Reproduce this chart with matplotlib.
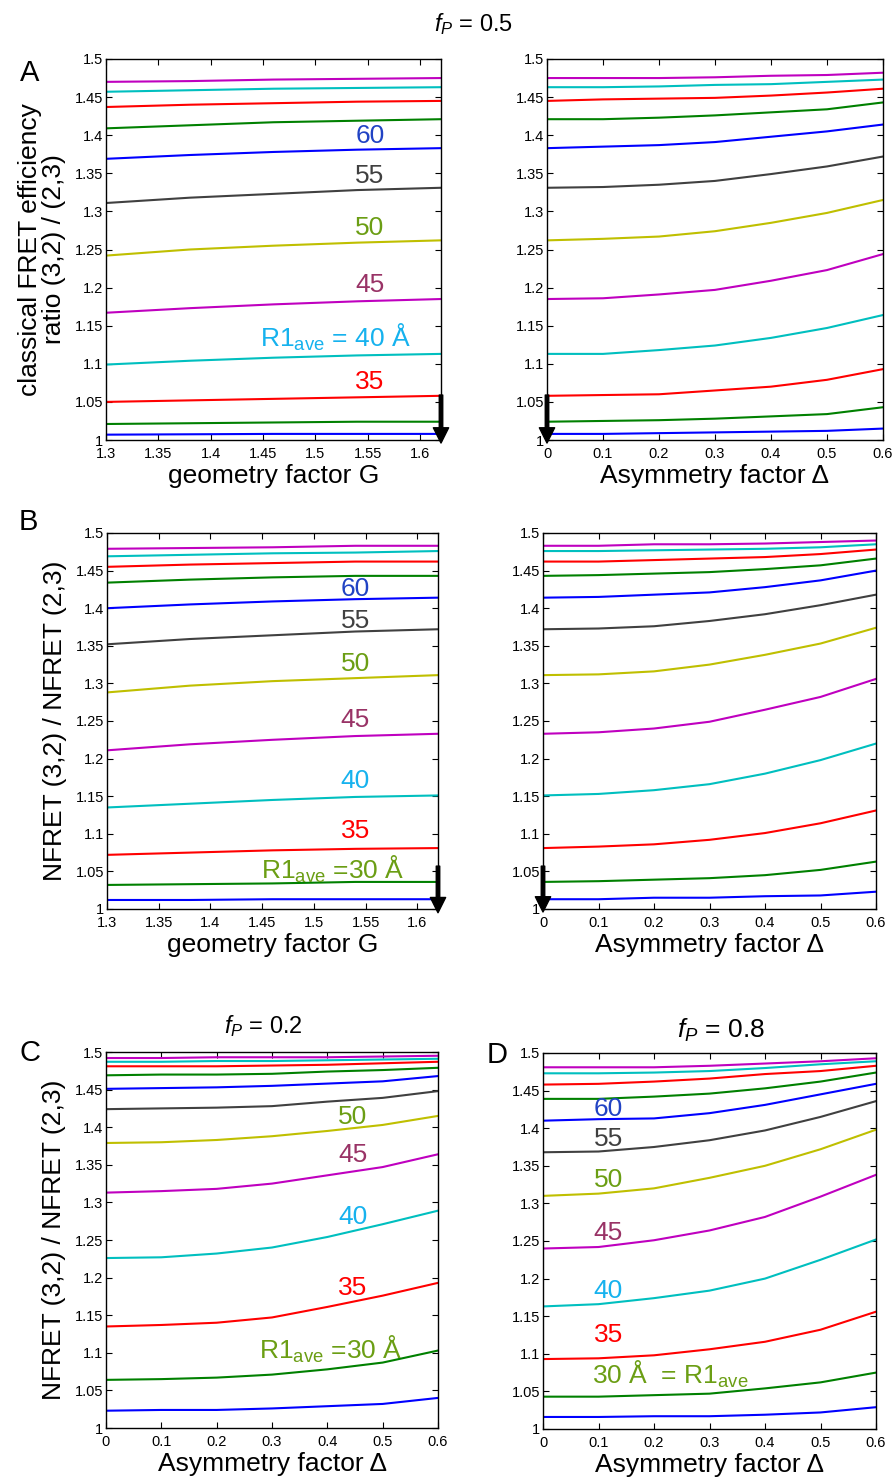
import numpy as np
import matplotlib
matplotlib.use("Agg")
import matplotlib.pyplot as plt
from matplotlib.ticker import FuncFormatter

plt.rcParams['font.family'] = ['Liberation Sans', 'DejaVu Sans']
plt.rcParams['mathtext.fontset'] = 'custom'
plt.rcParams['mathtext.rm'] = 'Liberation Sans'
plt.rcParams['mathtext.it'] = 'Liberation Sans:italic'

# x values
g_vals = [1.30, 1.38, 1.46, 1.54, 1.62]
delta_vals = [0, 0.1, 0.2, 0.3, 0.4, 0.5, 0.6]
r1_ave = [25, 30, 35, 40, 45, 50, 55, 60, 65, 70, 75, 80]

# A: classical FRET ratio vs G (f_P = 0.5)
a_geom = [
    [1.007, 1.0075, 1.008, 1.008, 1.008],
    [1.021, 1.022, 1.023, 1.024, 1.024],
    [1.050, 1.052, 1.054, 1.056, 1.058],
    [1.099, 1.104, 1.108, 1.111, 1.113],
    [1.167, 1.173, 1.178, 1.182, 1.185],
    [1.242, 1.250, 1.255, 1.259, 1.262],
    [1.311, 1.318, 1.323, 1.328, 1.331],
    [1.369, 1.374, 1.378, 1.381, 1.383],
    [1.409, 1.413, 1.417, 1.419, 1.421],
    [1.437, 1.440, 1.442, 1.444, 1.445],
    [1.457, 1.459, 1.461, 1.462, 1.463],
    [1.470, 1.471, 1.473, 1.474, 1.475],
]
# A: classical FRET ratio vs asymmetry
a_asym = [
    [1.008, 1.008, 1.009, 1.010, 1.011, 1.012, 1.015],
    [1.024, 1.025, 1.026, 1.028, 1.031, 1.034, 1.043],
    [1.058, 1.059, 1.060, 1.065, 1.070, 1.079, 1.093],
    [1.113, 1.113, 1.118, 1.124, 1.134, 1.147, 1.164],
    [1.185, 1.186, 1.191, 1.197, 1.209, 1.223, 1.244],
    [1.262, 1.264, 1.267, 1.274, 1.285, 1.298, 1.315],
    [1.331, 1.332, 1.335, 1.340, 1.349, 1.359, 1.372],
    [1.383, 1.385, 1.387, 1.391, 1.398, 1.405, 1.414],
    [1.421, 1.421, 1.423, 1.426, 1.430, 1.434, 1.443],
    [1.445, 1.447, 1.448, 1.449, 1.452, 1.456, 1.461],
    [1.463, 1.463, 1.464, 1.466, 1.467, 1.470, 1.473],
    [1.475, 1.475, 1.475, 1.476, 1.478, 1.479, 1.482],
]
# B: NFRET ratio vs G
b_geom = [
    [1.012, 1.012, 1.013, 1.013, 1.013],
    [1.032, 1.033, 1.034, 1.036, 1.036],
    [1.072, 1.075, 1.078, 1.080, 1.081],
    [1.135, 1.140, 1.145, 1.149, 1.151],
    [1.211, 1.219, 1.225, 1.230, 1.233],
    [1.288, 1.297, 1.303, 1.307, 1.311],
    [1.352, 1.359, 1.364, 1.369, 1.372],
    [1.400, 1.405, 1.409, 1.412, 1.414],
    [1.434, 1.438, 1.441, 1.443, 1.443],
    [1.455, 1.458, 1.460, 1.462, 1.462],
    [1.469, 1.471, 1.473, 1.474, 1.476],
    [1.479, 1.480, 1.481, 1.483, 1.483],
]
# B: NFRET ratio vs asymmetry
b_asym = [
    [1.013, 1.013, 1.015, 1.015, 1.017, 1.018, 1.023],
    [1.036, 1.037, 1.039, 1.041, 1.045, 1.052, 1.063],
    [1.081, 1.083, 1.086, 1.092, 1.101, 1.114, 1.131],
    [1.151, 1.153, 1.158, 1.166, 1.180, 1.198, 1.220],
    [1.233, 1.235, 1.240, 1.249, 1.265, 1.282, 1.306],
    [1.311, 1.312, 1.316, 1.325, 1.338, 1.353, 1.374],
    [1.372, 1.373, 1.376, 1.383, 1.392, 1.404, 1.418],
    [1.414, 1.415, 1.418, 1.421, 1.428, 1.437, 1.450],
    [1.443, 1.444, 1.446, 1.448, 1.452, 1.457, 1.466],
    [1.462, 1.462, 1.464, 1.466, 1.468, 1.472, 1.478],
    [1.476, 1.476, 1.477, 1.478, 1.479, 1.481, 1.485],
    [1.483, 1.483, 1.485, 1.485, 1.486, 1.488, 1.490],
]
# C: f_P = 0.2
c_asym = [
    [1.023, 1.024, 1.024, 1.026, 1.029, 1.032, 1.040],
    [1.064, 1.065, 1.067, 1.071, 1.078, 1.087, 1.103],
    [1.135, 1.137, 1.140, 1.147, 1.161, 1.176, 1.193],
    [1.226, 1.227, 1.232, 1.240, 1.254, 1.271, 1.289],
    [1.313, 1.315, 1.318, 1.325, 1.336, 1.347, 1.364],
    [1.379, 1.380, 1.383, 1.388, 1.395, 1.403, 1.415],
    [1.424, 1.425, 1.426, 1.428, 1.434, 1.439, 1.448],
    [1.451, 1.452, 1.453, 1.455, 1.458, 1.461, 1.468],
    [1.469, 1.470, 1.470, 1.471, 1.474, 1.476, 1.479],
    [1.481, 1.481, 1.481, 1.482, 1.483, 1.485, 1.487],
    [1.487, 1.487, 1.488, 1.488, 1.489, 1.490, 1.491],
    [1.492, 1.492, 1.493, 1.493, 1.493, 1.494, 1.495],
]
# D: f_P = 0.8
d_asym = [
    [1.016, 1.016, 1.017, 1.017, 1.019, 1.022, 1.029],
    [1.043, 1.043, 1.045, 1.047, 1.054, 1.062, 1.075],
    [1.093, 1.094, 1.098, 1.106, 1.116, 1.132, 1.156],
    [1.163, 1.166, 1.174, 1.184, 1.200, 1.225, 1.252],
    [1.240, 1.242, 1.251, 1.264, 1.282, 1.309, 1.338],
    [1.310, 1.313, 1.320, 1.334, 1.350, 1.372, 1.398],
    [1.368, 1.369, 1.375, 1.384, 1.397, 1.415, 1.436],
    [1.410, 1.412, 1.413, 1.420, 1.431, 1.445, 1.459],
    [1.439, 1.439, 1.442, 1.446, 1.453, 1.462, 1.474],
    [1.458, 1.459, 1.462, 1.466, 1.472, 1.476, 1.483],
    [1.473, 1.473, 1.474, 1.476, 1.480, 1.485, 1.489],
    [1.481, 1.481, 1.481, 1.483, 1.486, 1.489, 1.493],
]

# matlab-ish line color cycle
line_colors = [(0, 0, 1), (0, 0.5, 0), (1, 0, 0), (0, 0.75, 0.75),
               (0.75, 0, 0.75), (0.75, 0.75, 0), (0.25, 0.25, 0.25)]

lab_col = {'60': '#2143c4', '55': '#404040', '50': '#6b9e14',
           '45': '#993366', '40': '#16b2ee', '35': '#ff0000'}
LBL = 19   # axis label size
NUM = 19   # curve annotation size

W, H = 892, 1479
fig = plt.figure(figsize=(W / 100, H / 100), dpi=100)


def px_axes(x0, y0, x1, y1):
    return fig.add_axes([x0 / W, 1 - y1 / H, (x1 - x0) / W, (y1 - y0) / H])


fmt = FuncFormatter(lambda v, p: ('%.2f' % v).rstrip('0').rstrip('.'))


def setup(ax, xvals, curves, geom):
    for i, c in enumerate(curves):
        ax.plot(xvals, c, color=line_colors[i % 7], lw=1.5)
    ax.set_ylim(1.0, 1.5)
    ax.set_yticks(np.arange(1.0, 1.501, 0.05))
    if geom:
        ax.set_xlim(1.3, 1.62)
        ax.set_xticks(np.arange(1.3, 1.601, 0.05))
        ax.set_xlabel('geometry factor G', fontsize=LBL, labelpad=2)
    else:
        ax.set_xlim(0, 0.6)
        ax.set_xticks(np.arange(0, 0.601, 0.1))
        ax.set_xlabel('Asymmetry factor Δ', fontsize=LBL, labelpad=2)
    ax.xaxis.set_major_formatter(fmt)
    ax.yaxis.set_major_formatter(fmt)
    ax.tick_params(direction='in', top=True, right=True, length=4,
                   labelsize=10.5, pad=2)
    ax.tick_params(axis='x', pad=5)
    for s in ax.spines.values():
        s.set_linewidth(1.0)


def arrow(ax, x, y0, y1):
    ax.annotate('', xy=(x, y1), xytext=(x, y0), annotation_clip=False,
                arrowprops=dict(facecolor='k', edgecolor='k', width=2.5,
                                headwidth=11, headlength=11, shrink=0))


# row A
axA1 = px_axes(106, 59, 441, 440)
setup(axA1, g_vals, a_geom, True)
axA1.set_ylabel('classical FRET efficiency\nratio (3,2) / (2,3)', fontsize=LBL,
                labelpad=6, linespacing=1.0)
axA2 = px_axes(547, 59, 883, 440)
setup(axA2, delta_vals, a_asym, False)
arrow(axA1, 1.62, 1.059, 0.996)
arrow(axA2, 0, 1.059, 0.996)
for t, y in [('60', 1.399), ('55', 1.347), ('50', 1.278), ('45', 1.204),
             ('35', 1.076)]:
    axA1.text(1.552, y, t, color=lab_col[t], fontsize=NUM, ha='center', va='center')
axA1.text(1.447, 1.135, r'R1$_{\mathrm{ave}}$ = 40 Å', color=lab_col['40'],
          fontsize=NUM, ha='left', va='center')

# row B
axB1 = px_axes(107, 533, 438, 909)
setup(axB1, g_vals, b_geom, True)
axB1.set_ylabel('NFRET (3,2) / NFRET (2,3)', fontsize=LBL, labelpad=6)
axB2 = px_axes(543, 533, 876, 909)
setup(axB2, delta_vals, b_asym, False)
arrow(axB1, 1.62, 1.057, 0.995)
arrow(axB2, 0, 1.057, 0.996)
for t, y in [('60', 1.426), ('55', 1.383), ('50', 1.326), ('45', 1.251),
             ('40', 1.170), ('35', 1.104)]:
    axB1.text(1.54, y, t, color=lab_col[t], fontsize=NUM, ha='center', va='center')
axB1.text(1.449, 1.053, r'R1$_{\mathrm{ave}}$ =30 Å', color=lab_col['50'],
          fontsize=NUM, ha='left', va='center')

# row C / D
axC = px_axes(106, 1052, 438, 1428)
setup(axC, delta_vals, c_asym, False)
axC.set_ylabel('NFRET (3,2) / NFRET (2,3)', fontsize=LBL, labelpad=6)
for t, y in [('50', 1.414), ('45', 1.363), ('40', 1.281), ('35', 1.186)]:
    axC.text(0.446, y, t, color=lab_col[t], fontsize=NUM, ha='center', va='center')
axC.text(0.277, 1.104, r'R1$_{\mathrm{ave}}$ =30 Å', color=lab_col['50'],
         fontsize=NUM, ha='left', va='center')

axD = px_axes(543, 1053, 876, 1429)
setup(axD, delta_vals, d_asym, False)
for t, y in [('60', 1.426), ('55', 1.385), ('50', 1.331), ('45', 1.260),
             ('40', 1.183), ('35', 1.125)]:
    axD.text(0.118, y, t, color=lab_col[t], fontsize=NUM, ha='center', va='center')
axD.text(0.089, 1.073, r'30 Å  = R1$_{\mathrm{ave}}$', color=lab_col['50'],
         fontsize=NUM, ha='left', va='center')

# titles and panel letters
fig.text(473 / W, 1 - 24 / H, r'$f_P$ = 0.5', fontsize=17, ha='center', va='center')
fig.text(263 / W, 1 - 1026 / H, r'$f_P$ = 0.2', fontsize=17, ha='center', va='center')
fig.text(721 / W, 1 - 1030 / H, r'$f_P$ = 0.8', fontsize=19, ha='center', va='center')
for t, x, y in [('A', 30, 73), ('B', 28, 522), ('C', 30, 1053), ('D', 497, 1055)]:
    fig.text(x / W, 1 - y / H, t, fontsize=21, ha='center', va='center')

fig.savefig('out.png', dpi=100)
